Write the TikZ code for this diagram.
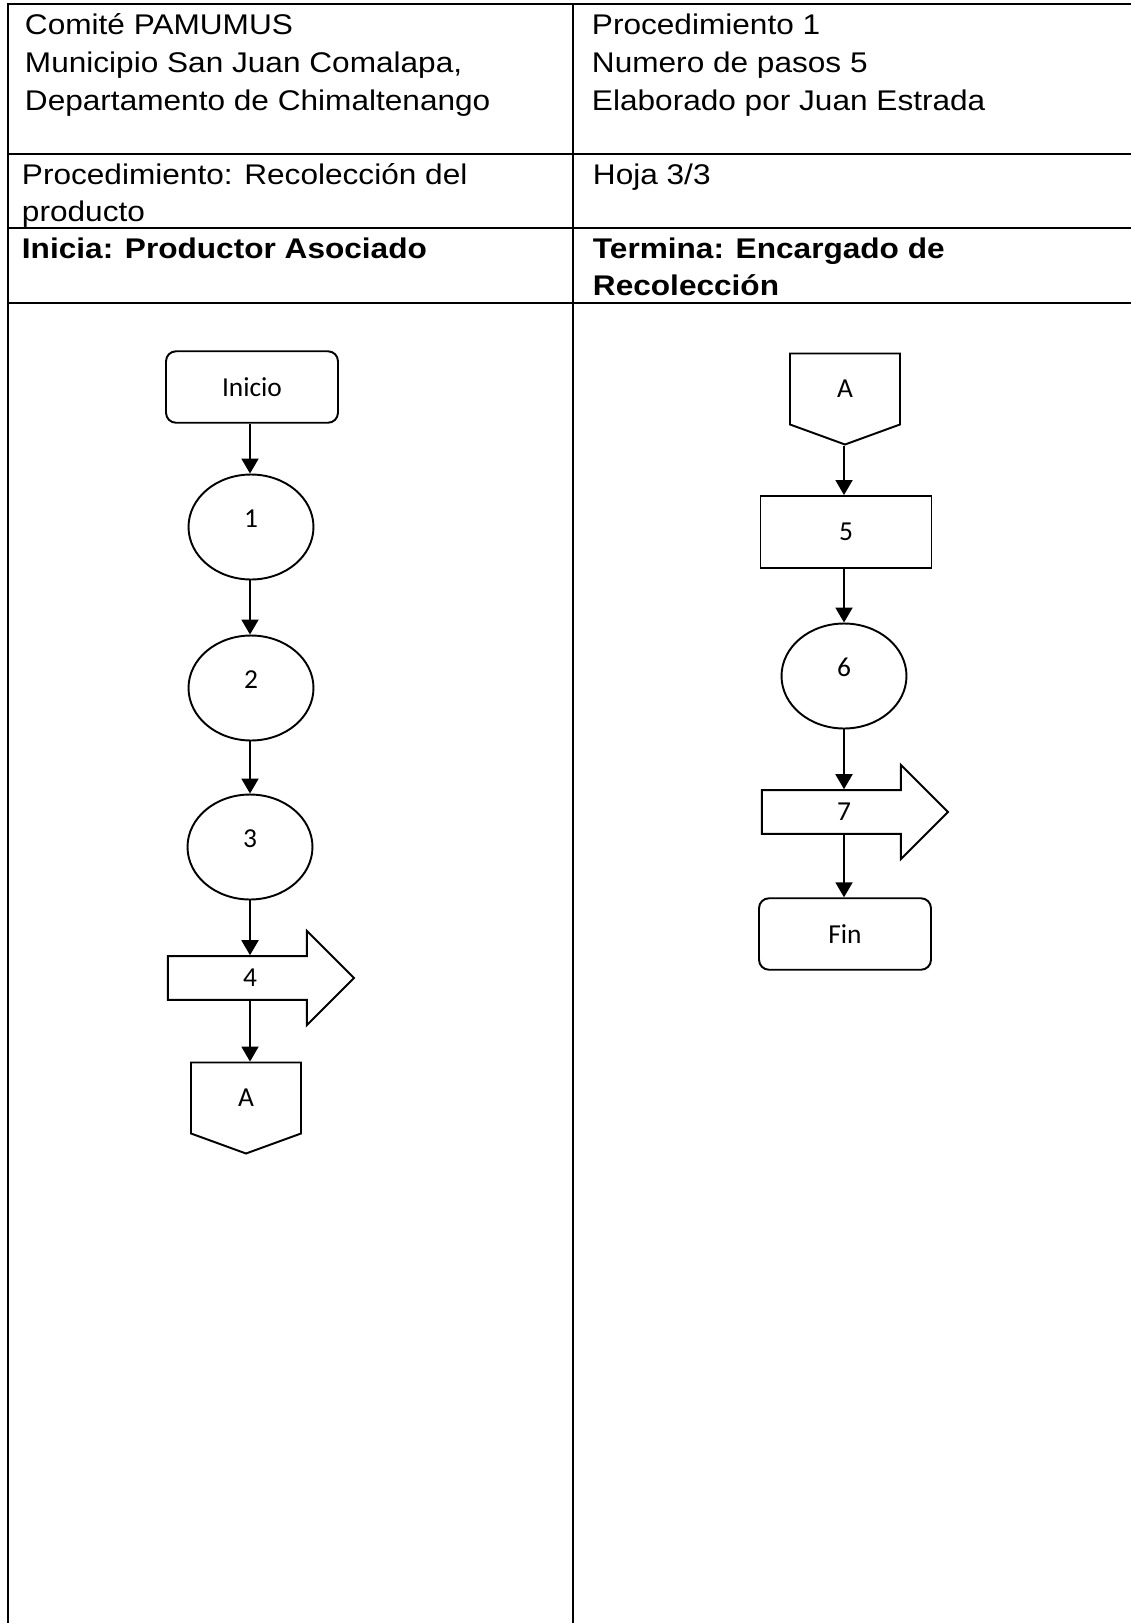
\documentclass[tikz,border=0pt]{standalone}
\usepackage{fontspec}
\usepackage{tikz}
\usetikzlibrary{shapes.geometric,shapes.arrows,shapes.symbols,arrows.meta}

\newfontfamily\tablefont[FakeStretch=1.11]{Liberation Sans}
\newfontfamily\shapefont{Carlito}

\tikzset{
  cell/.style={anchor=base west, inner sep=0pt, align=left},
  terminal/.style={draw, rounded corners=0.2cm, minimum width=3.44cm, minimum height=1.43cm},
  stepcircle/.style={draw, ellipse, minimum width=2.5cm, minimum height=2.1cm, text height=0.35cm, text depth=0.35cm},
  stepbox/.style={draw, minimum width=3.42cm, minimum height=1.44cm},
  transport/.style={draw, single arrow, minimum width=1.88cm, minimum height=3.72cm, single arrow head extend=0.36cm},
  offpage/.style={draw, signal, signal to=south, signal pointer angle=140, minimum width=2.2cm, minimum height=1.52cm}
}

\begin{document}
\begin{tikzpicture}[x=0.02cm, y=-0.02cm, >={Triangle[length=0.3cm,width=0.34cm]}, line width=1.1pt]
\useasboundingbox (0,0) rectangle (1130,1623);

% marco de la hoja
\draw (8,1630) -- (8,4) -- (1135,4);
\draw (573,4) -- (573,1630);
\foreach \y in {154,228,303} \draw (8,\y) -- (1135,\y);

% textos: el ancla base es la ultima linea
\node[cell, font={\tablefont\fontsize{16.2}{21.6}\selectfont}] at (24,110) (comite) {Comité PAMUMUS\\Municipio San Juan Comalapa,\\Departamento de Chimaltenango};
\node[cell, font={\tablefont\fontsize{16.2}{21.6}\selectfont}] at (591,110) (datos) {Procedimiento 1\\Numero de pasos 5\\Elaborado por Juan Estrada};
\node[cell, font={\tablefont\fontsize{16.2}{21}\selectfont}] at (21,221) (proc) {Procedimiento: Recolección del\\producto};
\node[cell, font={\tablefont\fontsize{16.2}{21}\selectfont}] at (592,184) (hoja) {Hoja 3/3};
\node[cell, font={\tablefont\bfseries\fontsize{16.2}{21}\selectfont}] at (21,258) (inicia) {Inicia: Productor Asociado};
\node[cell, font={\tablefont\bfseries\fontsize{16.2}{21}\selectfont}] at (592,295) (termina) {Termina: Encargado de\\Recolección};

\begin{scope}[font={\shapefont\fontsize{15.6}{18}\selectfont}]
  \node[terminal] at (252,387) (inicio) {Inicio};
  \node[stepcircle] at (251,527) (p1) {1};
  \node[stepcircle] at (251,688) (p2) {2};
  \node[stepcircle] at (250,847) (p3) {3};
  \node[transport] at (250,978) (p4) {4};
  \node[offpage] at (246,1098) (salidaA) {A};

  \node[offpage] at (845,389) (entradaA) {A};
  \node[stepbox] at (846,532) (p5) {5};
  \node[stepcircle] at (844,676) (p6) {6};
  \node[transport] at (844,812) (p7) {7};
  \node[terminal] at (845,934) (fin) {Fin};
\end{scope}

\draw[->] (p4 |- inicio.south) -- (p4 |- p1.north);
\draw[->] (p4 |- p1.south) -- (p4 |- p2.north);
\draw[->] (p4 |- p2.south) -- (p4 |- p3.north);
\draw[->] (p4 |- p3.south) -- (p4 |- p4.north);
\draw[->] (p4 |- p4.south) -- (p4 |- salidaA.north);

\draw[->] (p6 |- entradaA.south) -- (p6 |- p5.north);
\draw[->] (p6 |- p5.south) -- (p6 |- p6.north);
\draw[->] (p6) -- (p6 |- p7.north);
\draw[->] (p7 |- p7.south) -- (p7 |- fin.north);

\end{tikzpicture}
\end{document}
